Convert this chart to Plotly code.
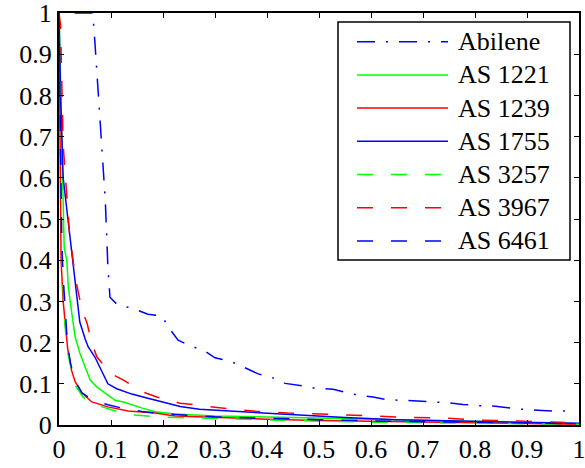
import plotly.graph_objects as go

# ---- data ----
abilene_x = [0.03, 0.065, 0.069, 0.075, 0.082, 0.089, 0.094, 0.098, 0.113, 0.14, 0.171, 0.198, 0.21, 0.229,
             0.252, 0.277, 0.3, 0.329, 0.354, 0.383, 0.41, 0.435, 0.467, 0.49, 0.527, 0.55, 0.575, 0.604,
             0.633, 0.66, 0.72, 0.748, 0.777, 0.806, 0.835, 0.861, 0.892, 0.92, 0.95, 0.98]
abilene_y = [1, 1, 0.93, 0.82, 0.675, 0.546, 0.384, 0.31, 0.291, 0.284, 0.269, 0.265, 0.238, 0.206,
             0.192, 0.182, 0.163, 0.155, 0.141, 0.124, 0.115, 0.101, 0.095, 0.09, 0.087, 0.079, 0.072, 0.068,
             0.061, 0.06, 0.057, 0.054, 0.05, 0.047, 0.046, 0.042, 0.038, 0.036, 0.034, 0.034]

as1221_x = [0, 0.004, 0.006, 0.01, 0.015, 0.018, 0.023, 0.027, 0.031, 0.04, 0.05, 0.06, 0.073, 0.088,
            0.108, 0.124, 0.133, 0.16, 0.185, 0.223, 0.3, 0.4, 0.5, 0.6, 0.7, 0.8, 0.9, 1.0]
as1221_y = [1, 0.8, 0.66, 0.43, 0.4, 0.335, 0.286, 0.245, 0.214, 0.175, 0.141, 0.109, 0.092, 0.078,
            0.06, 0.056, 0.052, 0.041, 0.032, 0.027, 0.022, 0.02, 0.017, 0.014, 0.011, 0.008, 0.005, 0.003]

as1239_x = [0, 0.002, 0.004, 0.008, 0.012, 0.017, 0.021, 0.024, 0.031, 0.044, 0.063, 0.094, 0.133,
            0.185, 0.223, 0.3, 0.4, 0.5, 0.6, 0.7, 0.8, 0.9, 1.0]
as1239_y = [1, 0.6, 0.4, 0.3, 0.238, 0.182, 0.158, 0.133, 0.105, 0.078, 0.056, 0.044, 0.034,
            0.029, 0.022, 0.018, 0.014, 0.011, 0.009, 0.007, 0.005, 0.003, 0.002]

as1755_x = [0, 0.003, 0.008, 0.017, 0.026, 0.035, 0.04, 0.05, 0.056, 0.069, 0.082, 0.094, 0.111, 0.14,
            0.171, 0.2, 0.233, 0.27, 0.323, 0.387, 0.463, 0.55, 0.65, 0.75, 0.85, 0.95, 1.0]
as1755_y = [1, 0.8, 0.6, 0.5, 0.4, 0.3, 0.25, 0.21, 0.19, 0.165, 0.133, 0.1, 0.088, 0.075,
            0.065, 0.055, 0.045, 0.038, 0.034, 0.029, 0.024, 0.018, 0.013, 0.01, 0.007, 0.005, 0.004]

as3257_x = [0, 0.003, 0.006, 0.01, 0.015, 0.021, 0.031, 0.046, 0.06, 0.083, 0.121, 0.146, 0.198, 0.3,
            0.4, 0.5, 0.6, 0.7, 0.8, 0.9, 1.0]
as3257_y = [1, 0.7, 0.4, 0.27, 0.187, 0.15, 0.097, 0.068, 0.056, 0.044, 0.029, 0.024, 0.019, 0.016,
            0.012, 0.009, 0.007, 0.005, 0.004, 0.003, 0.002]

as3967_x = [0, 0.003, 0.008, 0.015, 0.017, 0.021, 0.025, 0.031, 0.044, 0.054, 0.063, 0.073, 0.098, 0.124,
            0.162, 0.188, 0.233, 0.258, 0.294, 0.329, 0.38, 0.44, 0.52, 0.6, 0.66, 0.74, 0.8, 0.88, 0.95, 1.0]
as3967_y = [1, 0.97, 0.68, 0.55, 0.52, 0.45, 0.42, 0.36, 0.28, 0.247, 0.199, 0.165, 0.126, 0.109,
            0.08, 0.068, 0.053, 0.049, 0.044, 0.039, 0.033, 0.029, 0.026, 0.022, 0.019, 0.017, 0.012, 0.01, 0.007, 0.005]

as6461_x = [0, 0.002, 0.005, 0.008, 0.012, 0.016, 0.022, 0.03, 0.044, 0.065, 0.094, 0.121, 0.16, 0.2,
            0.3, 0.4, 0.5, 0.6, 0.7, 0.8, 0.9, 1.0]
as6461_y = [1, 0.7, 0.45, 0.36, 0.28, 0.2, 0.15, 0.11, 0.078, 0.06, 0.049, 0.041, 0.033, 0.027,
            0.02, 0.016, 0.013, 0.01, 0.008, 0.006, 0.004, 0.003]

series_names = ["Abilene", "AS 1221", "AS 1239", "AS 1755", "AS 3257", "AS 3967", "AS 6461"]
series_x = [abilene_x, as1221_x, as1239_x, as1755_x, as3257_x, as3967_x, as6461_x]
series_y = [abilene_y, as1221_y, as1239_y, as1755_y, as3257_y, as3967_y, as6461_y]

# ---- styles ----
BLUE, GREEN, RED = "#0000ff", "#00ff00", "#ff0000"
DASHDOT = "18px,11px,2px,11px"
DASHED = "16px,18px"
styles = [(BLUE, DASHDOT), (GREEN, "solid"), (RED, "solid"), (BLUE, "solid"),
          (GREEN, DASHED), (RED, DASHED), (BLUE, DASHED)]

W, H = 585, 468
L, R, T, B = 59, 6, 13, 43
FONT = "Liberation Serif"

fig = go.Figure()
for name, xs, ys, (col, dash) in zip(series_names, series_x, series_y, styles):
    fig.add_trace(go.Scatter(x=xs, y=ys, mode="lines", name=name,
                             line=dict(color=col, width=1.5, dash=dash), showlegend=False))

pw, ph = W - L - R, H - T - B


def px2paper(px, py):
    return (px - L) / pw, (H - B - py) / ph


# custom legend (MATLAB style)
x0, y0 = px2paper(338, 22)
x1, y1 = px2paper(570, 260)
fig.add_shape(type="rect", xref="paper", yref="paper", x0=x0, y0=y1, x1=x1, y1=y0,
              line=dict(color="black", width=1.5), fillcolor="white", layer="above")
row0, rowstep = 41.7, 33.2
for i, (name, (col, dash)) in enumerate(zip(series_names, styles)):
    py = row0 + i * rowstep
    lx0, ly = px2paper(357, py)
    lx1, _ = px2paper(448, py)
    tx, _ = px2paper(456, py)
    fig.add_shape(type="line", xref="paper", yref="paper", x0=lx0, x1=lx1, y0=ly, y1=ly,
                  line=dict(color=col, width=1.5, dash=dash), layer="above")
    fig.add_annotation(xref="paper", yref="paper", x=tx, y=ly, text=name, showarrow=False,
                       xanchor="left", yanchor="middle", font=dict(family=FONT, size=26, color="black"))

axis_common = dict(range=[0, 1], dtick=0.1, tick0=0, showgrid=False, zeroline=False,
                   showline=True, linecolor="black", linewidth=2, mirror="ticks",
                   ticks="inside", ticklen=5, tickwidth=1.2, tickcolor="black",
                   ticklabeloverflow="allow",
                   tickfont=dict(family=FONT, size=26, color="black"))

fig.update_layout(width=W, height=H, margin=dict(l=L, r=R, t=T, b=B, autoexpand=False),
                  paper_bgcolor="white", plot_bgcolor="white",
                  xaxis=dict(**axis_common), yaxis=dict(**axis_common))

fig.write_html("out.html", config={"displayModeBar": False},
               post_script="document.body.style.margin='0';document.body.style.overflow='hidden';")
